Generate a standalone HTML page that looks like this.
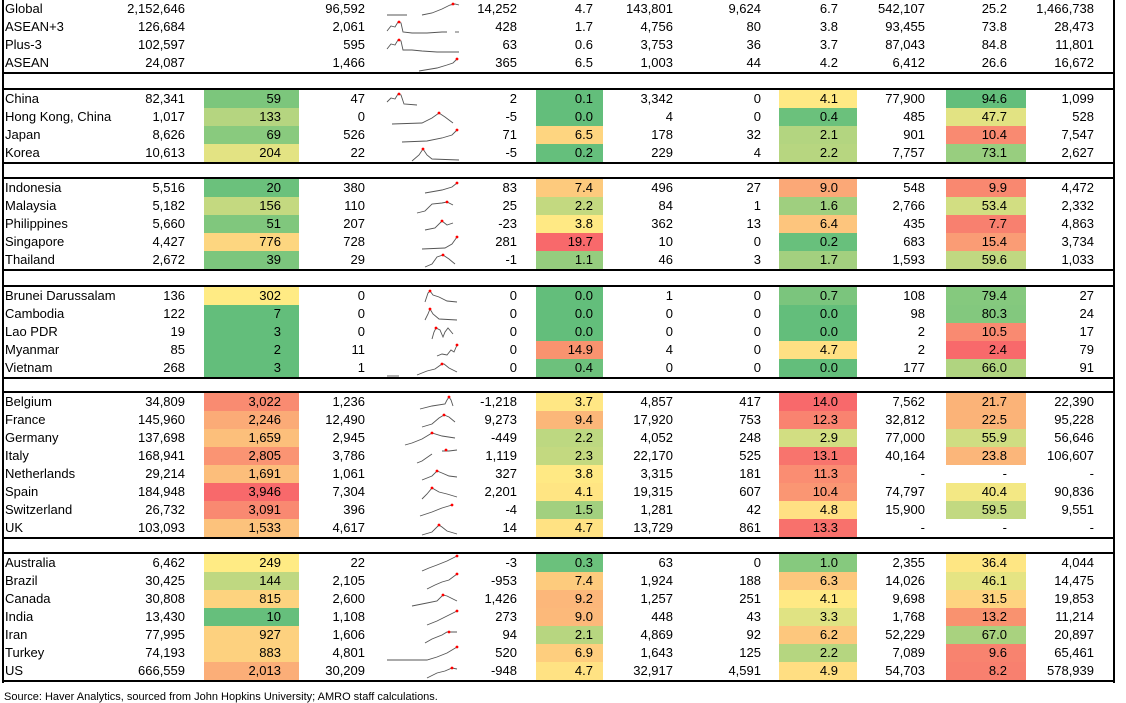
<!DOCTYPE html>
<html><head><meta charset="utf-8"><style>
body{margin:0;width:1126px;height:700px;overflow:hidden;background:#fff;font-family:"Liberation Sans",sans-serif;font-size:13px;color:#000;position:relative}
.g{position:absolute;left:2px;width:1109px;border-top:2px solid #000;border-bottom:2px solid #000;border-left:2px solid #000;border-right:2px solid #000}
.g.first{border-top:none}
table{border-collapse:collapse;table-layout:fixed;width:1109px}
td{height:18px;padding:0;text-align:right;white-space:nowrap;overflow:hidden;line-height:18px}
td:nth-child(1){text-align:left;padding-left:1px}
td:nth-child(2){padding-right:19px}
td:nth-child(3){padding-right:18px}
td:nth-child(4){padding-right:19px}
td:nth-child(5){padding:0}
td:nth-child(6){padding-right:19px}
td:nth-child(7){padding-right:10px}
td:nth-child(8){padding-right:17px}
td:nth-child(9){padding-right:18px}
td:nth-child(10){padding-right:19px}
td:nth-child(11){padding-right:21px}
td:nth-child(12){padding-right:19px}
td:nth-child(13){padding-right:19px}
svg{display:block}
polyline{fill:none;stroke:#555;stroke-width:0.9}
circle{fill:#f00}
.vl{position:absolute;top:0;width:2px;height:683px;background:#000}
.src{position:absolute;left:4px;top:691px;font-size:11px}
</style></head><body>
<div class="vl" style="left:2px"></div><div class="vl" style="left:1113px"></div>

<div class="g first" style="top:0px">
<table><colgroup><col style="width:116px"><col style="width:84px"><col style="width:95px"><col style="width:85px"><col style="width:78px"><col style="width:74px"><col style="width:67px"><col style="width:87px"><col style="width:89px"><col style="width:78px"><col style="width:89px"><col style="width:80px"><col style="width:87px"></colgroup>
<tr><td>Global</td><td>2,152,646</td><td></td><td>96,592</td><td><svg width="78" height="18"><g transform="translate(3,1)"><polyline points="0,14 20,14"/><polyline points="35,14 45,12 55,8 63,4 68,3 72,4"/><circle cx="66" cy="3" r="1.4"/></g></svg></td><td>14,252</td><td>4.7</td><td>143,801</td><td>9,624</td><td>6.7</td><td>542,107</td><td>25.2</td><td>1,466,738</td></tr>
<tr><td>ASEAN+3</td><td>126,684</td><td></td><td>2,061</td><td><svg width="78" height="18"><g transform="translate(3,1)"><polyline points="0,12 4,7 8,8 11,3 14,4 16,13 25,14 40,14 55,13 60,13"/><polyline points="68,13 72,13"/><circle cx="12" cy="3" r="1.4"/></g></svg></td><td>428</td><td>1.7</td><td>4,756</td><td>80</td><td>3.8</td><td>93,455</td><td>73.8</td><td>28,473</td></tr>
<tr><td>Plus-3</td><td>102,597</td><td></td><td>595</td><td><svg width="78" height="18"><g transform="translate(3,1)"><polyline points="0,12 4,7 8,8 11,3 14,4 16,13 25,13 35,14 50,15 72,15"/><circle cx="12" cy="3" r="1.4"/></g></svg></td><td>63</td><td>0.6</td><td>3,753</td><td>36</td><td>3.7</td><td>87,043</td><td>84.8</td><td>11,801</td></tr>
<tr><td>ASEAN</td><td>24,087</td><td></td><td>1,466</td><td><svg width="78" height="18"><g transform="translate(3,1)"><polyline points="32,16 50,13 60,10 66,8 70,4"/><circle cx="70" cy="4" r="1.4"/></g></svg></td><td>365</td><td>6.5</td><td>1,003</td><td>44</td><td>4.2</td><td>6,412</td><td>26.6</td><td>16,672</td></tr>
</table></div>

<div class="g" style="top:88px">
<table><colgroup><col style="width:116px"><col style="width:84px"><col style="width:95px"><col style="width:85px"><col style="width:78px"><col style="width:74px"><col style="width:67px"><col style="width:87px"><col style="width:89px"><col style="width:78px"><col style="width:89px"><col style="width:80px"><col style="width:87px"></colgroup>
<tr><td>China</td><td>82,341</td><td style="background:#7CC67C">59</td><td>47</td><td><svg width="78" height="18"><g transform="translate(3,1)"><polyline points="0,11 4,7 8,8 11,3 14,4 17,13 30,14"/><circle cx="12" cy="3" r="1.4"/></g></svg></td><td>2</td><td style="background:#63BE7B">0.1</td><td>3,342</td><td>0</td><td style="background:#FFE984">4.1</td><td>77,900</td><td style="background:#63BE7B">94.6</td><td>1,099</td></tr>
<tr><td>Hong Kong, China</td><td>1,017</td><td style="background:#B5D580">133</td><td>0</td><td><svg width="78" height="18"><g transform="translate(3,1)"><polyline points="5,15 35,14 45,9 52,4 58,8 66,14"/><circle cx="52" cy="4" r="1.4"/></g></svg></td><td>-5</td><td style="background:#63BE7B">0.0</td><td>4</td><td>0</td><td style="background:#6BC17C">0.4</td><td>485</td><td style="background:#E2E383">47.7</td><td>528</td></tr>
<tr><td>Japan</td><td>8,626</td><td style="background:#89CA7E">69</td><td>526</td><td><svg width="78" height="18"><g transform="translate(3,1)"><polyline points="15,15 40,14 55,11 65,8 70,3"/><circle cx="70" cy="3" r="1.4"/></g></svg></td><td>71</td><td style="background:#FED580">6.5</td><td>178</td><td>32</td><td style="background:#B3D580">2.1</td><td>901</td><td style="background:#F98A71">10.4</td><td>7,547</td></tr>
<tr><td>Korea</td><td>10,613</td><td style="background:#E3E383">204</td><td>22</td><td><svg width="78" height="18"><g transform="translate(3,1)"><polyline points="25,16 32,10 36,4 40,10 45,14 72,15"/><circle cx="36" cy="4" r="1.4"/></g></svg></td><td>-5</td><td style="background:#65BF7C">0.2</td><td>229</td><td>4</td><td style="background:#B7D680">2.2</td><td>7,757</td><td style="background:#98CE7F">73.1</td><td>2,627</td></tr>
</table></div>

<div class="g" style="top:177px">
<table><colgroup><col style="width:116px"><col style="width:84px"><col style="width:95px"><col style="width:85px"><col style="width:78px"><col style="width:74px"><col style="width:67px"><col style="width:87px"><col style="width:89px"><col style="width:78px"><col style="width:89px"><col style="width:80px"><col style="width:87px"></colgroup>
<tr><td>Indonesia</td><td>5,516</td><td style="background:#6BC17C">20</td><td>380</td><td><svg width="78" height="18"><g transform="translate(3,1)"><polyline points="38,13 55,10 65,7 70,3"/><circle cx="70" cy="3" r="1.4"/></g></svg></td><td>83</td><td style="background:#FDCA7D">7.4</td><td>496</td><td>27</td><td style="background:#FBA877">9.0</td><td>548</td><td style="background:#F98870">9.9</td><td>4,472</td></tr>
<tr><td>Malaysia</td><td>5,182</td><td style="background:#C4D980">156</td><td>110</td><td><svg width="78" height="18"><g transform="translate(3,1)"><polyline points="30,15 38,13 45,6 55,5 60,4 66,7"/><circle cx="60" cy="4" r="1.4"/></g></svg></td><td>25</td><td style="background:#C3D980">2.2</td><td>84</td><td>1</td><td style="background:#9FCF7F">1.6</td><td>2,766</td><td style="background:#D2DE82">53.4</td><td>2,332</td></tr>
<tr><td>Philippines</td><td>5,660</td><td style="background:#80C77D">51</td><td>207</td><td><svg width="78" height="18"><g transform="translate(3,1)"><polyline points="38,14 48,12 55,5 60,9 66,7"/><circle cx="55" cy="5" r="1.4"/></g></svg></td><td>-23</td><td style="background:#FFE984">3.8</td><td>362</td><td>13</td><td style="background:#FDC57D">6.4</td><td>435</td><td style="background:#F8806F">7.7</td><td>4,863</td></tr>
<tr><td>Singapore</td><td>4,427</td><td style="background:#FDD680">776</td><td>728</td><td><svg width="78" height="18"><g transform="translate(3,1)"><polyline points="35,15 58,14 65,10 70,3"/><circle cx="70" cy="3" r="1.4"/></g></svg></td><td>281</td><td style="background:#F8696B">19.7</td><td>10</td><td>0</td><td style="background:#68C07C">0.2</td><td>683</td><td style="background:#FA9C75">15.4</td><td>3,734</td></tr>
<tr><td>Thailand</td><td>2,672</td><td style="background:#7CC67D">39</td><td>29</td><td><svg width="78" height="18"><g transform="translate(3,1)"><polyline points="38,15 45,12 50,5 56,3 62,7 68,12"/><circle cx="56" cy="3" r="1.4"/></g></svg></td><td>-1</td><td style="background:#95CD7E">1.1</td><td>46</td><td>3</td><td style="background:#A3D07F">1.7</td><td>1,593</td><td style="background:#C0D881">59.6</td><td>1,033</td></tr>
</table></div>

<div class="g" style="top:285px">
<table><colgroup><col style="width:116px"><col style="width:84px"><col style="width:95px"><col style="width:85px"><col style="width:78px"><col style="width:74px"><col style="width:67px"><col style="width:87px"><col style="width:89px"><col style="width:78px"><col style="width:89px"><col style="width:80px"><col style="width:87px"></colgroup>
<tr><td>Brunei Darussalam</td><td>136</td><td style="background:#FFEB84">302</td><td>0</td><td><svg width="78" height="18"><g transform="translate(3,1)"><polyline points="38,14 41,5 43,3 46,7 52,9 60,13 70,14"/><circle cx="43" cy="3" r="1.4"/></g></svg></td><td>0</td><td style="background:#63BE7B">0.0</td><td>1</td><td>0</td><td style="background:#7BC57D">0.7</td><td>108</td><td style="background:#85C97E">79.4</td><td>27</td></tr>
<tr><td>Cambodia</td><td>122</td><td style="background:#63BE7B">7</td><td>0</td><td><svg width="78" height="18"><g transform="translate(3,1)"><polyline points="38,14 41,8 43,3 46,8 52,13 70,14"/><circle cx="43" cy="3" r="1.4"/></g></svg></td><td>0</td><td style="background:#63BE7B">0.0</td><td>0</td><td>0</td><td style="background:#63BE7B">0.0</td><td>98</td><td style="background:#83C87E">80.3</td><td>24</td></tr>
<tr><td>Lao PDR</td><td>19</td><td style="background:#63BE7B">3</td><td>0</td><td><svg width="78" height="18"><g transform="translate(3,1)"><polyline points="45,15 47,8 49,4 53,6 56,13 58,8 61,4 66,10"/><circle cx="49" cy="4" r="1.4"/></g></svg></td><td>0</td><td style="background:#63BE7B">0.0</td><td>0</td><td>0</td><td style="background:#63BE7B">0.0</td><td>2</td><td style="background:#F98A71">10.5</td><td>17</td></tr>
<tr><td>Myanmar</td><td>85</td><td style="background:#63BE7B">2</td><td>11</td><td><svg width="78" height="18"><g transform="translate(3,1)"><polyline points="50,14 55,12 60,13 64,8 67,10 70,3"/><circle cx="70" cy="3" r="1.4"/></g></svg></td><td>0</td><td style="background:#F9936F">14.9</td><td>4</td><td>0</td><td style="background:#FFE083">4.7</td><td>2</td><td style="background:#F8696B">2.4</td><td>79</td></tr>
<tr><td>Vietnam</td><td>268</td><td style="background:#63BE7B">3</td><td>1</td><td><svg width="78" height="18"><g transform="translate(3,1)"><polyline points="0,16 12,16"/><polyline points="30,15 40,11 48,9 55,4 57,4 62,8 70,12"/><circle cx="55" cy="4" r="1.4"/></g></svg></td><td>0</td><td style="background:#6DC17C">0.4</td><td>0</td><td>0</td><td style="background:#63BE7B">0.0</td><td>177</td><td style="background:#B0D480">66.0</td><td>91</td></tr>
</table></div>

<div class="g" style="top:391px">
<table><colgroup><col style="width:116px"><col style="width:84px"><col style="width:95px"><col style="width:85px"><col style="width:78px"><col style="width:74px"><col style="width:67px"><col style="width:87px"><col style="width:89px"><col style="width:78px"><col style="width:89px"><col style="width:80px"><col style="width:87px"></colgroup>
<tr><td>Belgium</td><td>34,809</td><td style="background:#F98B71">3,022</td><td>1,236</td><td><svg width="78" height="18"><g transform="translate(3,1)"><polyline points="33,15 45,12 58,10 60,6 62,3 64,6 66,12"/><circle cx="62" cy="3" r="1.4"/></g></svg></td><td>-1,218</td><td style="background:#FFE784">3.7</td><td>4,857</td><td>417</td><td style="background:#F8696B">14.0</td><td>7,562</td><td style="background:#FBB378">21.7</td><td>22,390</td></tr>
<tr><td>France</td><td>145,960</td><td style="background:#FBAB77">2,246</td><td>12,490</td><td><svg width="78" height="18"><g transform="translate(3,1)"><polyline points="35,15 45,12 52,6 57,3 62,5 68,10"/><circle cx="57" cy="3" r="1.4"/></g></svg></td><td>9,273</td><td style="background:#FBB779">9.4</td><td>17,920</td><td>753</td><td style="background:#F98370">12.3</td><td>32,812</td><td style="background:#FBB378">22.5</td><td>95,228</td></tr>
<tr><td>Germany</td><td>137,698</td><td style="background:#FCBF7B">1,659</td><td>2,945</td><td><svg width="78" height="18"><g transform="translate(3,1)"><polyline points="18,15 25,13 35,9 45,3 55,6 68,8"/><circle cx="45" cy="3" r="1.4"/></g></svg></td><td>-449</td><td style="background:#BDD881">2.2</td><td>4,052</td><td>248</td><td style="background:#D2DE82">2.9</td><td>77,000</td><td style="background:#CFDD82">55.9</td><td>56,646</td></tr>
<tr><td>Italy</td><td>168,941</td><td style="background:#FA9473">2,805</td><td>3,786</td><td><svg width="78" height="18"><g transform="translate(3,1)"><polyline points="30,15 35,13 45,6"/><polyline points="55,3 62,3 70,2"/><circle cx="59" cy="2" r="1.4"/></g></svg></td><td>1,119</td><td style="background:#C3D980">2.3</td><td>22,170</td><td>525</td><td style="background:#F8746D">13.1</td><td>40,164</td><td style="background:#FBB67A">23.8</td><td>106,607</td></tr>
<tr><td>Netherlands</td><td>29,214</td><td style="background:#FCBE7B">1,691</td><td>1,061</td><td><svg width="78" height="18"><g transform="translate(3,1)"><polyline points="35,14 45,10 50,5 55,7 62,10 70,11"/><circle cx="50" cy="5" r="1.4"/></g></svg></td><td>327</td><td style="background:#FFE984">3.8</td><td>3,315</td><td>181</td><td style="background:#FA8D72">11.3</td><td>-</td><td>-</td><td>-</td></tr>
<tr><td>Spain</td><td>184,948</td><td style="background:#F8696B">3,946</td><td>7,304</td><td><svg width="78" height="18"><g transform="translate(3,1)"><polyline points="35,15 40,10 45,4 52,8 60,10 70,13"/><circle cx="45" cy="4" r="1.4"/></g></svg></td><td>2,201</td><td style="background:#FFE583">4.1</td><td>19,315</td><td>607</td><td style="background:#FA9673">10.4</td><td>74,797</td><td style="background:#F3E884">40.4</td><td>90,836</td></tr>
<tr><td>Switzerland</td><td>26,732</td><td style="background:#F98971">3,091</td><td>396</td><td><svg width="78" height="18"><g transform="translate(3,1)"><polyline points="33,14 45,10 55,6 65,3"/><circle cx="65" cy="3" r="1.4"/></g></svg></td><td>-4</td><td style="background:#A2D07F">1.5</td><td>1,281</td><td>42</td><td style="background:#FFE083">4.8</td><td>15,900</td><td style="background:#C2D981">59.5</td><td>9,551</td></tr>
<tr><td>UK</td><td>103,093</td><td style="background:#FCC27C">1,533</td><td>4,617</td><td><svg width="78" height="18"><g transform="translate(3,1)"><polyline points="35,15 45,12 52,5 55,7 60,11 70,14"/><circle cx="52" cy="5" r="1.4"/></g></svg></td><td>14</td><td style="background:#FFE283">4.7</td><td>13,729</td><td>861</td><td style="background:#F8716C">13.3</td><td>-</td><td>-</td><td>-</td></tr>
</table></div>

<div class="g" style="top:552px">
<table><colgroup><col style="width:116px"><col style="width:84px"><col style="width:95px"><col style="width:85px"><col style="width:78px"><col style="width:74px"><col style="width:67px"><col style="width:87px"><col style="width:89px"><col style="width:78px"><col style="width:89px"><col style="width:80px"><col style="width:87px"></colgroup>
<tr><td>Australia</td><td>6,462</td><td style="background:#FFEB84">249</td><td>22</td><td><svg width="78" height="18"><g transform="translate(3,1)"><polyline points="35,16 42,13 50,10 60,6 70,1"/><circle cx="70" cy="1" r="1.4"/></g></svg></td><td>-3</td><td style="background:#6BC17C">0.3</td><td>63</td><td>0</td><td style="background:#86C97E">1.0</td><td>2,355</td><td style="background:#FEE683">36.4</td><td>4,044</td></tr>
<tr><td>Brazil</td><td>30,425</td><td style="background:#BFD881">144</td><td>2,105</td><td><svg width="78" height="18"><g transform="translate(3,1)"><polyline points="40,16 48,12 55,9 62,7 70,1"/><circle cx="70" cy="1" r="1.4"/></g></svg></td><td>-953</td><td style="background:#FDCB7D">7.4</td><td>1,924</td><td>188</td><td style="background:#FDC77D">6.3</td><td>14,026</td><td style="background:#E5E483">46.1</td><td>14,475</td></tr>
<tr><td>Canada</td><td>30,808</td><td style="background:#FDD37F">815</td><td>2,600</td><td><svg width="78" height="18"><g transform="translate(3,1)"><polyline points="25,15 40,12 50,10 56,4 60,5 70,10"/><circle cx="56" cy="4" r="1.4"/></g></svg></td><td>1,426</td><td style="background:#FCB77A">9.2</td><td>1,257</td><td>251</td><td style="background:#FFE984">4.1</td><td>9,698</td><td style="background:#FED480">31.5</td><td>19,853</td></tr>
<tr><td>India</td><td>13,430</td><td style="background:#66BF7C">10</td><td>1,108</td><td><svg width="78" height="18"><g transform="translate(3,1)"><polyline points="40,16 50,12 60,7 70,2"/><circle cx="70" cy="2" r="1.4"/></g></svg></td><td>273</td><td style="background:#FCB97A">9.0</td><td>448</td><td>43</td><td style="background:#E0E383">3.3</td><td>1,768</td><td style="background:#F9926F">13.2</td><td>11,214</td></tr>
<tr><td>Iran</td><td>77,995</td><td style="background:#FDD17F">927</td><td>1,606</td><td><svg width="78" height="18"><g transform="translate(3,1)"><polyline points="38,16 45,12 55,8 60,5 70,5"/><circle cx="62" cy="5" r="1.4"/></g></svg></td><td>94</td><td style="background:#B7D680">2.1</td><td>4,869</td><td>92</td><td style="background:#FDC77D">6.2</td><td>52,229</td><td style="background:#A9D27F">67.0</td><td>20,897</td></tr>
<tr><td>Turkey</td><td>74,193</td><td style="background:#FDD17F">883</td><td>4,801</td><td><svg width="78" height="18"><g transform="translate(3,1)"><polyline points="0,15 40,15 50,12 60,8 70,2"/><circle cx="70" cy="2" r="1.4"/></g></svg></td><td>520</td><td style="background:#FECE7E">6.9</td><td>1,643</td><td>125</td><td style="background:#B5D680">2.2</td><td>7,089</td><td style="background:#F8836F">9.6</td><td>65,461</td></tr>
<tr><td>US</td><td>666,559</td><td style="background:#FBAE78">2,013</td><td>30,209</td><td><svg width="78" height="18"><g transform="translate(3,1)"><polyline points="40,15 50,10 58,8 65,5 70,6"/><circle cx="65" cy="5" r="1.4"/></g></svg></td><td>-948</td><td style="background:#FFE283">4.7</td><td>32,917</td><td>4,591</td><td style="background:#FFDE82">4.9</td><td>54,703</td><td style="background:#F8806F">8.2</td><td>578,939</td></tr>
</table></div>

<div class="src">Source: Haver Analytics, sourced from John Hopkins University; AMRO staff calculations.</div>
</body></html>
